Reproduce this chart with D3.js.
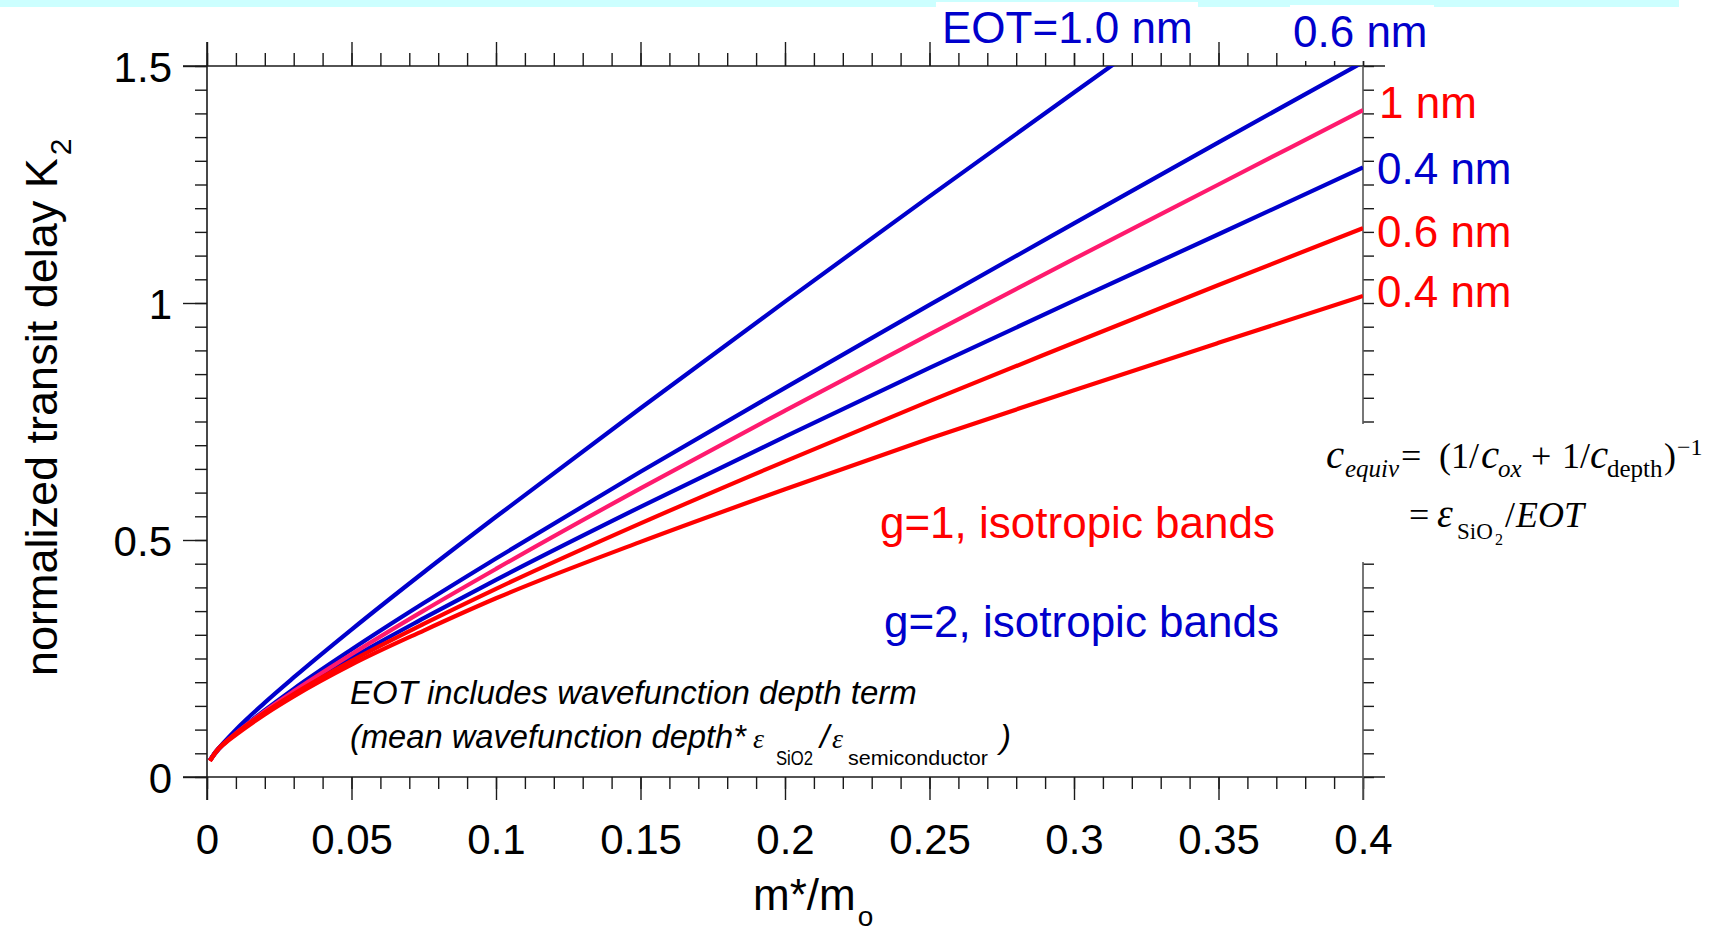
<!DOCTYPE html>
<html>
<head>
<meta charset="utf-8">
<script src="https://cdn.jsdelivr.net/npm/d3@7"></script>
<style>
  html, body { margin: 0; padding: 0; background: #fff; }
  svg { display: block; }
</style>
</head>
<body>
<svg id="chart" width="1724" height="932"></svg>
<script>
// ---- data ----
const mass = [0.001, 0.003, 0.006, 0.01, 0.02, 0.03, 0.05, 0.075, 0.1, 0.15, 0.2, 0.25, 0.3, 0.35, 0.4];
const k2_g2_eot10 = [0.035, 0.053, 0.074, 0.100, 0.157, 0.210, 0.311, 0.432, 0.549, 0.778, 1.003, 1.225, 1.444, 1.662, 1.879];
const k2_g2_eot06 = [0.035, 0.051, 0.071, 0.093, 0.141, 0.186, 0.269, 0.367, 0.461, 0.644, 0.821, 0.996, 1.168, 1.339, 1.508];
const k2_g2_eot04 = [0.035, 0.053, 0.072, 0.093, 0.138, 0.178, 0.251, 0.335, 0.416, 0.570, 0.718, 0.863, 1.005, 1.145, 1.286];
const k2_g1_eot10 = [0.035, 0.052, 0.071, 0.092, 0.139, 0.181, 0.259, 0.351, 0.439, 0.609, 0.773, 0.934, 1.093, 1.250, 1.407];
const k2_g1_eot06 = [0.034, 0.053, 0.072, 0.092, 0.136, 0.175, 0.245, 0.323, 0.397, 0.535, 0.666, 0.793, 0.916, 1.038, 1.158];
const k2_g1_eot04 = [0.034, 0.052, 0.070, 0.089, 0.132, 0.170, 0.237, 0.309, 0.377, 0.496, 0.607, 0.714, 0.816, 0.916, 1.015];

const xTicks = [0, 0.05, 0.1, 0.15, 0.2, 0.25, 0.3, 0.35, 0.4];
const xTickLabels = ["0", "0.05", "0.1", "0.15", "0.2", "0.25", "0.3", "0.35", "0.4"];
const yTicks = [0, 0.5, 1, 1.5];
const yTickLabels = ["0", "0.5", "1", "1.5"];

const seriesNames = ["g2_eot10", "g2_eot06", "g2_eot04", "g1_eot10", "g1_eot06", "g1_eot04"];
const seriesValues = [k2_g2_eot10, k2_g2_eot06, k2_g2_eot04, k2_g1_eot10, k2_g1_eot06, k2_g1_eot04];
const seriesColors = ["#0000cc", "#0000cc", "#0000cc", "#ff1a6e", "#ff0000", "#ff0000"];

// ---- layout ----
const svg = d3.select("#chart");
const X0 = 207, X1 = 1363, Y0 = 777, Y1 = 66;
const x = d3.scaleLinear().domain([0, 0.4]).range([X0, X1]);
const y = d3.scaleLinear().domain([0, 1.5]).range([Y0, Y1]);
const SANS = "'Liberation Sans', Arial, Helvetica, sans-serif";
const SERIF = "'Liberation Serif', 'Times New Roman', serif";

svg.append("rect").attr("x", 0).attr("y", 0).attr("width", 1724).attr("height", 932).attr("fill", "#fff");
// cyan band at the top of the slide
svg.append("rect").attr("x", 0).attr("y", 0).attr("width", 1679).attr("height", 7).attr("fill", "#ccffff");

const minorX = d3.range(0, 0.4001, 0.01).map(v => +v.toFixed(2));
const minorY = d3.range(0, 1.5001, 0.05).map(v => +v.toFixed(2));
const axisColor = "#1a1a1a";

function styleAxis(g) {
  g.select(".domain").remove();
  g.selectAll(".tick line").attr("stroke", axisColor).attr("stroke-width", 1.4);
}

// bottom axis
svg.append("g").attr("transform", `translate(0,${Y0})`)
  .call(d3.axisBottom(x).tickValues(minorX).tickSize(12).tickFormat(""))
  .call(styleAxis);
const bottom = svg.append("g").attr("transform", `translate(0,${Y0})`)
  .call(d3.axisBottom(x).tickValues(xTicks).tickSize(23).tickPadding(24)
    .tickFormat((d, i) => xTickLabels[i]))
  .call(styleAxis);
bottom.selectAll("text").attr("font-family", SANS).attr("font-size", 42).attr("fill", "#000");

// top axis
svg.append("g").attr("transform", `translate(0,${Y1})`)
  .call(d3.axisTop(x).tickValues(minorX).tickSize(13).tickFormat(""))
  .call(styleAxis);
svg.append("g").attr("transform", `translate(0,${Y1})`)
  .call(d3.axisTop(x).tickValues(xTicks).tickSize(24).tickFormat(""))
  .call(styleAxis);

// left axis
svg.append("g").attr("transform", `translate(${X0},0)`)
  .call(d3.axisLeft(y).tickValues(minorY).tickSize(12).tickFormat(""))
  .call(styleAxis);
const left = svg.append("g").attr("transform", `translate(${X0},0)`)
  .call(d3.axisLeft(y).tickValues(yTicks).tickSize(24).tickPadding(11)
    .tickFormat((d, i) => yTickLabels[i]))
  .call(styleAxis);
left.selectAll("text").attr("font-family", SANS).attr("font-size", 42).attr("fill", "#000").attr("dy", "0.37em");

// right axis
svg.append("g").attr("transform", `translate(${X1},0)`)
  .call(d3.axisRight(y).tickValues(minorY).tickSize(11).tickFormat(""))
  .call(styleAxis);

// frame lines
const frame = svg.append("g").attr("stroke", axisColor).attr("stroke-width", 1.6);
frame.append("line").attr("x1", X0 - 24).attr("x2", X1 + 22).attr("y1", Y0).attr("y2", Y0);
frame.append("line").attr("x1", X0 - 24).attr("x2", X1 + 22).attr("y1", Y1).attr("y2", Y1);
frame.append("line").attr("x1", X0).attr("x2", X0).attr("y1", Y1 - 24).attr("y2", Y0 + 23);
frame.append("line").attr("x1", X1).attr("x2", X1).attr("y1", Y1).attr("y2", Y0 + 23).attr("stroke", "#555");

// curves
svg.append("clipPath").attr("id", "plotclip").append("rect")
  .attr("x", X0).attr("y", Y1).attr("width", X1 - X0).attr("height", Y0 - Y1);
const line = d3.line().x(d => x(d[0])).y(d => y(d[1])).curve(d3.curveMonotoneX);
const curves = svg.append("g").attr("clip-path", "url(#plotclip)");
seriesValues.forEach((vals, i) => {
  curves.append("path")
    .datum(mass.map((m, j) => [m, vals[j]]))
    .attr("class", "series " + seriesNames[i])
    .attr("d", line)
    .attr("fill", "none")
    .attr("stroke", seriesColors[i])
    .attr("stroke-width", 4.2);
});

// white boxes behind labels (they cover parts of the band / axis)
svg.append("rect").attr("x", 936).attr("y", 2).attr("width", 262).attr("height", 51).attr("fill", "#fff");
svg.append("rect").attr("x", 1290).attr("y", 5).attr("width", 144).attr("height", 56).attr("fill", "#fff");
svg.append("rect").attr("x", 1325).attr("y", 424).attr("width", 399).attr("height", 138).attr("fill", "#fff");

// curve labels
const lab = svg.append("g").attr("font-family", SANS).attr("font-size", 44);
lab.append("text").attr("x", 942).attr("y", 43).attr("fill", "#0000cc").text("EOT=1.0 nm");
lab.append("text").attr("x", 1293).attr("y", 47).attr("fill", "#0000cc").text("0.6 nm");
lab.append("text").attr("x", 1379).attr("y", 118).attr("fill", "#ff0000").text("1 nm");
lab.append("text").attr("x", 1377).attr("y", 184).attr("fill", "#0000cc").text("0.4 nm");
lab.append("text").attr("x", 1377).attr("y", 247).attr("fill", "#ff0000").text("0.6 nm");
lab.append("text").attr("x", 1377).attr("y", 307).attr("fill", "#ff0000").text("0.4 nm");
lab.append("text").attr("x", 1275).attr("y", 538).attr("text-anchor", "end").attr("fill", "#ff0000").text("g=1, isotropic bands");
lab.append("text").attr("x", 1279).attr("y", 637).attr("text-anchor", "end").attr("fill", "#0000cc").text("g=2, isotropic bands");

// axis titles
const yl = svg.append("text").attr("transform", "translate(57,676) rotate(-90)")
  .attr("font-family", SANS).attr("font-size", 45).attr("fill", "#000");
yl.append("tspan").text("normalized transit delay K");
yl.append("tspan").attr("font-size", 30).attr("dy", 14).attr("dx", 3).text("2");

const xl = svg.append("text").attr("x", 753).attr("y", 910)
  .attr("font-family", SANS).attr("font-size", 44).attr("fill", "#000");
xl.append("tspan").text("m*/m");
xl.append("tspan").attr("font-size", 28).attr("dy", 16).attr("dx", 2).text("o");

// annotation (italic), each piece its own text element
const note = svg.append("g").attr("font-family", SANS).attr("fill", "#000");
note.append("text").attr("x", 350).attr("y", 704).attr("font-size", 33).attr("font-style", "italic")
  .text("EOT includes wavefunction depth term");
note.append("text").attr("x", 350).attr("y", 748).attr("font-size", 33).attr("font-style", "italic")
  .attr("textLength", 396).attr("lengthAdjust", "spacingAndGlyphs").text("(mean wavefunction depth*");
note.append("text").attr("x", 753).attr("y", 748).attr("font-family", SERIF).attr("font-style", "italic")
  .attr("font-size", 28).text("ε");
note.append("text").attr("x", 776).attr("y", 765).attr("font-size", 21)
  .attr("textLength", 37).attr("lengthAdjust", "spacingAndGlyphs").text("SiO2");
note.append("text").attr("x", 820).attr("y", 748).attr("font-size", 33).attr("font-style", "italic").text("/");
note.append("text").attr("x", 832).attr("y", 748).attr("font-family", SERIF).attr("font-style", "italic")
  .attr("font-size", 28).text("ε");
note.append("text").attr("x", 848).attr("y", 765).attr("font-size", 21)
  .attr("textLength", 140).attr("lengthAdjust", "spacingAndGlyphs").text("semiconductor");
note.append("text").attr("x", 1000).attr("y", 748).attr("font-size", 33).attr("font-style", "italic").text(")");

// equation (Times-like)
const eq = svg.append("g").attr("font-family", SERIF).attr("fill", "#000");
const e1 = eq.append("text").attr("y", 468).attr("font-size", 36);
e1.append("tspan").attr("x", 1326).attr("font-style", "italic").attr("font-size", 41).text("c");
e1.append("tspan").attr("x", 1345).attr("dy", 9).attr("font-style", "italic").attr("font-size", 25).text("equiv");
e1.append("tspan").attr("x", 1401).attr("dy", -9).text("=");
e1.append("tspan").attr("x", 1439).text("(1/");
e1.append("tspan").attr("x", 1481).attr("font-style", "italic").attr("font-size", 41).text("c");
e1.append("tspan").attr("x", 1498).attr("dy", 9).attr("font-style", "italic").attr("font-size", 25).text("ox");
e1.append("tspan").attr("x", 1531).attr("dy", -9).text("+");
e1.append("tspan").attr("x", 1562).text("1/");
e1.append("tspan").attr("x", 1590).attr("font-style", "italic").attr("font-size", 41).text("c");
e1.append("tspan").attr("x", 1607).attr("dy", 9).attr("font-size", 25).text("depth");
e1.append("tspan").attr("x", 1664).attr("dy", -9).text(")");
e1.append("tspan").attr("x", 1677).attr("dy", -13).attr("font-size", 24).text("−1");

const e2 = eq.append("text").attr("y", 527).attr("font-size", 36);
e2.append("tspan").attr("x", 1409).text("=");
e2.append("tspan").attr("x", 1437).attr("font-style", "italic").attr("font-size", 40).text("ε");
e2.append("tspan").attr("x", 1457).attr("dy", 12).attr("font-size", 23).text("SiO");
e2.append("tspan").attr("x", 1495).attr("dy", 6).attr("font-size", 16).text("2");
e2.append("tspan").attr("x", 1505).attr("dy", -18).text("/");
e2.append("tspan").attr("x", 1516).attr("font-style", "italic").text("EOT");
</script>
</body>
</html>
